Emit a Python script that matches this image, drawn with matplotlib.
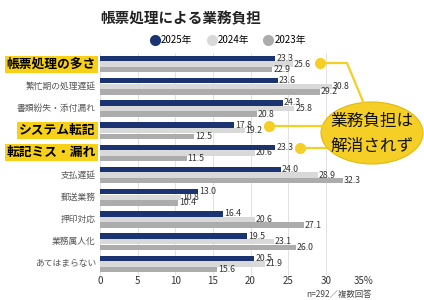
import numpy as np
import matplotlib
matplotlib.use("Agg")
import matplotlib.pyplot as plt
from matplotlib.patches import Ellipse
from matplotlib.lines import Line2D

plt.rcParams['font.family'] = ['Noto Sans CJK JP', 'DejaVu Sans']

categories = ['帳票処理の多さ', '繁忙期の処理遅延', '書類紛失・添付漏れ', 'システム転記',
              '転記ミス・漏れ', '支払遅延', '郵送業務', '押印対応', '業務属人化', 'あてはまらない']
highlight = ['帳票処理の多さ', 'システム転記', '転記ミス・漏れ']
y2025 = [23.3, 23.6, 24.3, 17.8, 23.3, 24.0, 13.0, 16.4, 19.5, 20.5]
y2024 = [25.6, 30.8, 25.8, 19.2, 20.6, 28.9, 10.8, 20.6, 23.1, 21.9]
y2023 = [22.9, 29.2, 20.8, 12.5, 11.5, 32.3, 10.4, 27.1, 26.0, 15.6]
series = [('2025年', y2025, '#1b3370'), ('2024年', y2024, '#d9d9d9'), ('2023年', y2023, '#acacac')]
xticks = [0, 5, 10, 15, 20, 25, 30, 35]
xticklabels = ['0', '5', '10', '15', '20', '25', '30', '35%']

W, H = 424, 300
fig = plt.figure(figsize=(W / 100, H / 100), dpi=100)
ax = fig.add_axes([100 / W, 1 - 275 / H, 263.5 / W, 222 / H])

y = np.arange(len(categories))
bh = 0.25
for k, (name, vals, col) in enumerate(series):
    pos = y - bh + k * bh
    ax.barh(pos, vals, height=bh * 0.96, color=col, zorder=2)
    for p, v in zip(pos, vals):
        ax.text(v + 0.12, p, f'{v:.1f}', va='center', ha='left', fontsize=6.3,
                color='#333333', zorder=3)

ax.set_xlim(0, 35)
ax.set_ylim(len(categories) - 0.5, -0.5)
ax.set_xticks(xticks)
ax.set_xticklabels(xticklabels, fontsize=7, color='#333333')
ax.tick_params(axis='both', length=0, pad=0.5)
ax.set_yticks(y)
ax.set_yticklabels([])
ax.grid(axis='x', color='#e2e2e2', linewidth=0.7, zorder=0)
for s in ax.spines.values():
    s.set_visible(False)

for i, c in enumerate(categories):
    if c in highlight:
        ax.text(-0.55, i, c, ha='right', va='center', fontsize=9.2, fontweight='bold',
                color='black', clip_on=False,
                bbox=dict(boxstyle='square,pad=0.15', facecolor='#f7d117', edgecolor='none'))
    else:
        ax.text(-0.55, i, c, ha='right', va='center', fontsize=6.3, color='#555555',
                clip_on=False)

# title and legend
fig.text(100 / W, 1 - 18 / H, '帳票処理による業務負担', fontsize=10.5, fontweight='bold',
         ha='left', va='center', color='#222222')
handles = [Line2D([], [], marker='o', linestyle='none', markersize=7,
                  markerfacecolor=col, markeredgecolor=col) for _, _, col in series]
fig.legend(handles, [s[0] for s in series], loc='center', bbox_to_anchor=(228 / W, 1 - 40 / H),
           ncol=3, frameon=False, fontsize=7, handletextpad=0.1, columnspacing=1.5,
           handlelength=1.0)

fig.text(372 / W, 1 - 294 / H, 'n=292／複数回答', fontsize=6, ha='right', va='center',
         color='#444444')

# callout
yel = '#f5cf25'
def px(x, yy):
    return x / W, 1 - yy / H

lines = [[(320, 63), (347, 63), (364, 104)],
         [(269, 126), (324, 126)],
         [(300, 148), (326, 148)]]
for pts in lines:
    xs, ys = zip(*[px(a, b) for a, b in pts])
    fig.add_artist(Line2D(xs, ys, color=yel, linewidth=1.6, transform=fig.transFigure))
    fig.add_artist(Line2D([xs[0]], [ys[0]], marker='o', markersize=7, color=yel,
                          transform=fig.transFigure))
cx, cy = px(372, 133)
fig.add_artist(Ellipse((cx, cy), 102 / W, 62 / H, facecolor=yel, edgecolor='#e3b90f',
                       linewidth=0.8, transform=fig.transFigure))
fig.text(cx, 1 - 121 / H, '業務負担は', fontsize=12, ha='center', va='center', color='#111111')
fig.text(cx, 1 - 146 / H, '解消されず', fontsize=12, ha='center', va='center', color='#111111')

fig.savefig('out.png', dpi=100)
